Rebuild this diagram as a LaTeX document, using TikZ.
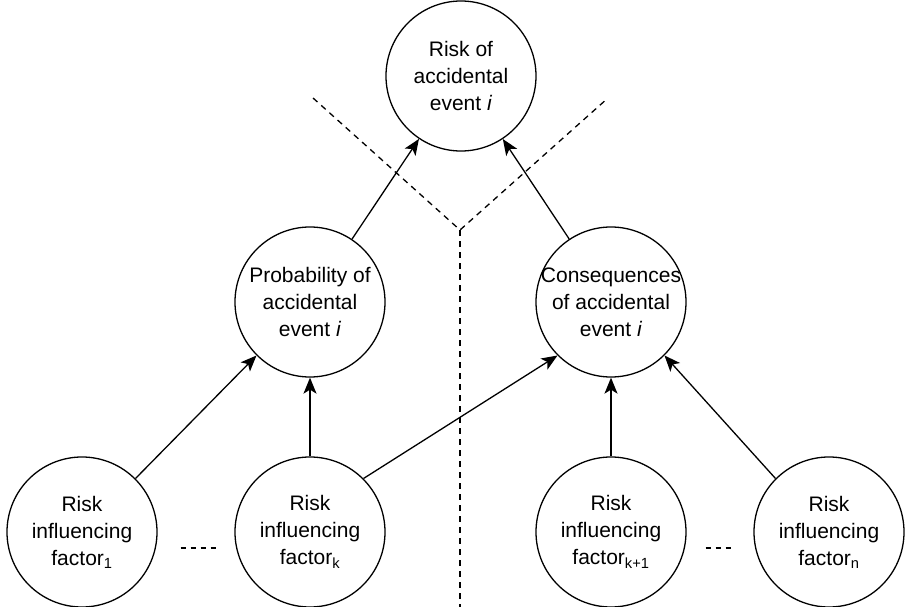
\documentclass[tikz,border=0pt]{standalone}
\usepackage{fontspec}
\setmainfont{Liberation Sans}
\usetikzlibrary{arrows.meta,positioning}

\begin{document}
\begin{tikzpicture}[x=1pt,y=-1pt,every node/.style={font=\fontsize{21}{27}\selectfont,align=center},
riskcirc/.style={draw,circle,line width=1.3pt,minimum size=150pt,inner sep=0pt},
link/.style={-{Stealth[length=16pt,width=13pt,inset=4pt]},line width=1.3pt},
divide/.style={dash pattern=on 6pt off 5pt,line width=1.3pt}]
\useasboundingbox (0,0) rectangle (905,607);
\node[riskcirc] (risk) at (461,76) {Risk of\\accidental\\event \textit{i}};
\node[riskcirc] (prob) at (310,302) {Probability of\\accidental\\event \textit{i}};
\node[riskcirc,inner sep=-7pt] (cons) at (611,302) {Consequences\\of accidental\\event \textit{i}};
\node[riskcirc] (f1) at (82,532) {Risk\\influencing\\factor\textsubscript{1}};
\node[riskcirc] (fk) at (310,532) {Risk\\influencing\\factor\textsubscript{k}};
\node[riskcirc] (fk1) at (611,532) {Risk\\influencing\\factor\textsubscript{k+1}};
\node[riskcirc] (fn) at (829,532) {Risk\\influencing\\factor\textsubscript{n}};
\draw[link] (prob)--(risk);\draw[link] (cons)--(risk);
\draw[link] (f1.north east)--(prob.south west);\draw[link] (fk.north)--(prob.south);\draw[link] (fk.north east)--(cons.south west);
\draw[link] (fk1.north)--(cons.south);\draw[link] (fn.north west)--(cons.south east);
% dividing line between the two branches
\coordinate (fork) at (460,230);
\coordinate (armL) at (313,98);\coordinate (armR) at (608,98);\coordinate (foot) at (460,607);
\draw[divide] (armL)--(fork)--(armR);\draw[divide] (fork)--(foot);
\draw[divide,dash pattern=on 5pt off 5pt] ([xshift=23pt,yshift=-16pt]f1.east)--([xshift=-18pt,yshift=-16pt]fk.west);
\draw[divide,dash pattern=on 5pt off 5pt] ([xshift=19pt,yshift=-16pt]fk1.east)--([xshift=-19pt,yshift=-16pt]fn.west);
\end{tikzpicture}
\end{document}
